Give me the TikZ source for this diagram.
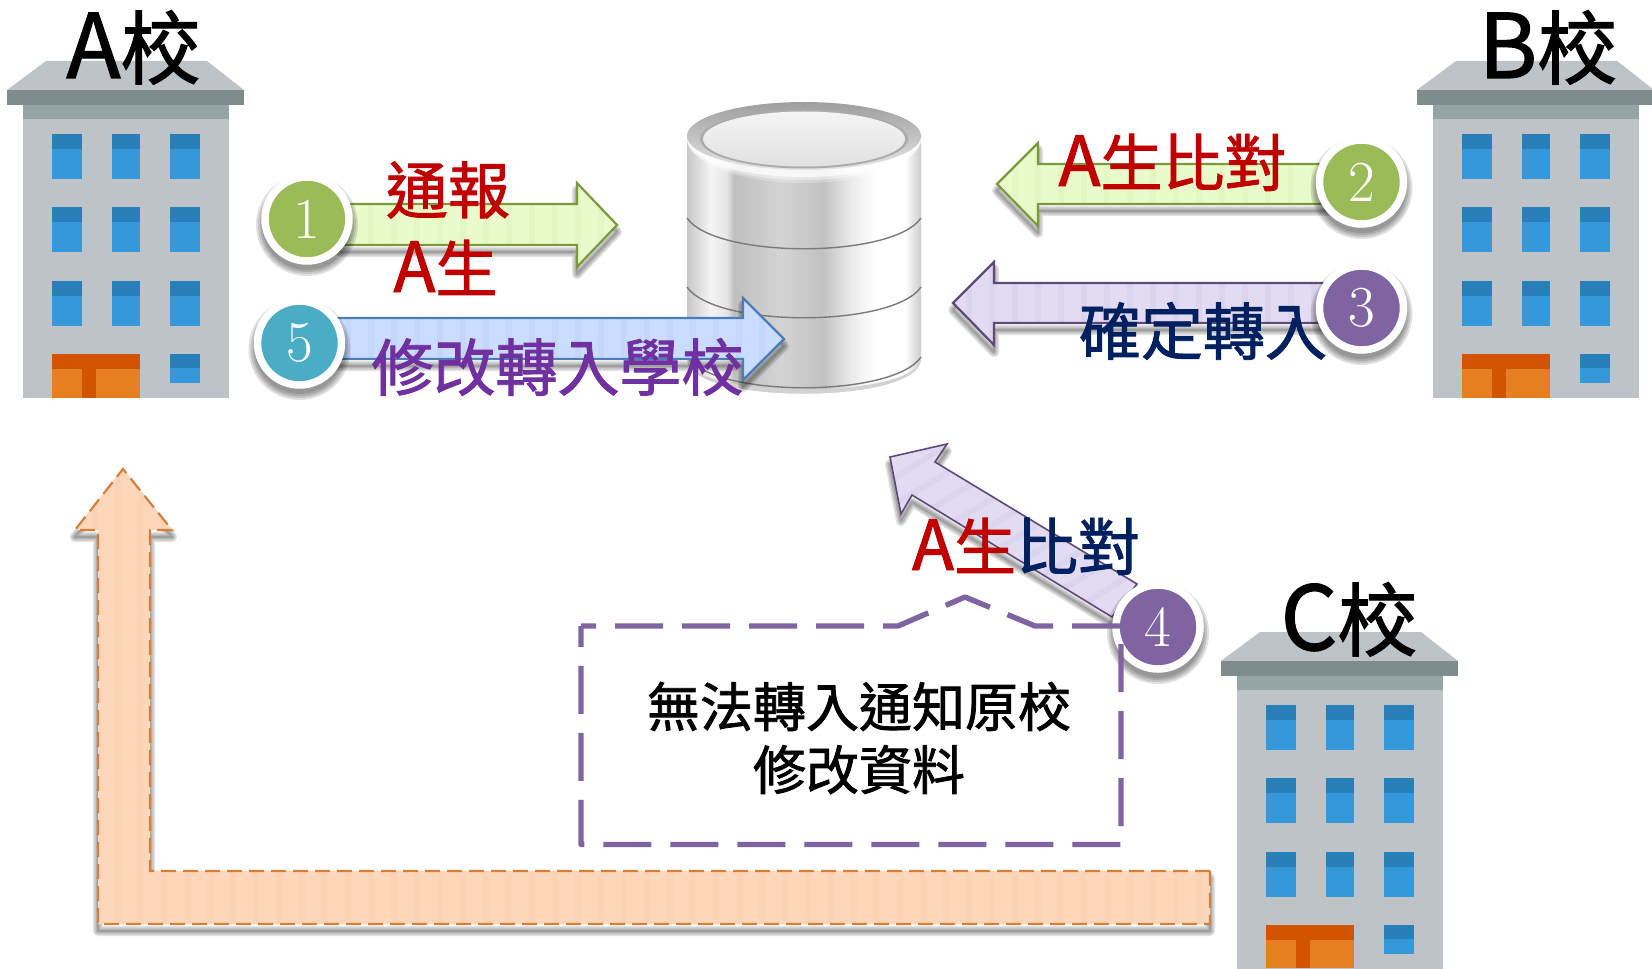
\documentclass[tikz,border=0pt]{standalone}
\usepackage{fontspec}
\newfontfamily\cjk[FakeBold=1.4]{Noto Sans CJK TC}
\usetikzlibrary{calc}
\definecolor{wblue}{HTML}{3498DB}\definecolor{wdark}{HTML}{2980B9}
\definecolor{dorange}{HTML}{E67E22}\definecolor{ddark}{HTML}{D35400}
\definecolor{bgray}{HTML}{BDC3C7}\definecolor{bband}{HTML}{95A5A6}\definecolor{bcorn}{HTML}{7F8C8D}
\definecolor{cgreen}{HTML}{9BBB59}\definecolor{cteal}{HTML}{4BACC6}\definecolor{cpurple}{HTML}{8064A2}
\definecolor{tred}{HTML}{C00000}\definecolor{tnavy}{HTML}{002060}\definecolor{tviolet}{HTML}{7030A0}
\definecolor{gfill}{HTML}{EAFBCB}\definecolor{gline}{HTML}{7A9A3D}\definecolor{gstripe}{HTML}{E4F6C4}
\definecolor{pfill}{HTML}{E2DBF2}\definecolor{pline}{HTML}{5F497A}\definecolor{pstripe}{HTML}{DCD4EC}
\definecolor{bfill}{HTML}{CBDDFF}\definecolor{bline}{HTML}{4A7EBB}\definecolor{bstripe}{HTML}{C5D7F8}
\definecolor{ofill}{HTML}{FED7BA}\definecolor{oline}{HTML}{D5803A}\definecolor{ostripe}{HTML}{FCD3B4}
\pgfdeclarehorizontalshading{dbshade}{100bp}{
 color(0bp)=(black!22);color(25bp)=(black!22);color(30bp)=(black!4);color(33.5bp)=(black!10);
 color(35bp)=(black!25);color(45bp)=(black!17);color(54bp)=(black!24);color(60bp)=(black!8);
 color(65bp)=(white);color(71.5bp)=(white);color(75bp)=(black!20);color(100bp)=(black!20)}
\newcommand{\labelA}{{\fontsize{34.5}{34}\selectfont A}}
\newcommand{\titleletter}[1]{{\fontsize{44.5}{44}\selectfont #1}}
\tikzset{
 badge/.style={circle,draw=white,line width=3.75pt,minimum size=42pt,inner sep=0pt,text=white,font=\rmfamily\fontsize{29}{29}\selectfont},
 lbl/.style={font=\cjk\fontsize{31}{34}\selectfont,inner sep=0pt},
 title/.style={font=\cjk\fontsize{40}{44}\selectfont,inner sep=0pt,text=black,anchor=base},
 note/.style={font=\cjk\fontsize{26.5}{31.5}\selectfont,inner sep=0pt,align=center,text=black},
 callout/.style={draw=cpurple,line width=2.7pt,dash pattern=on 24pt off 9.5pt,dash phase=16.5pt,line join=round},
 dbline/.style={black!52,line width=.7pt},
}
\newcommand{\building}[3]{%
 \begin{scope}[shift={(#1,#2)}]
  \fill[bgray] (23,119) rectangle (229,398);
  \fill[bgray] (46,61) -- (207,61) -- (244,90) -- (7,90) -- cycle;
  \fill[bcorn] (7,90) rectangle (244,105);
  \fill[bband] (23,105) rectangle (229,119);
  \foreach \xa/\xb in {52/82,112/140,170/200}{
   \foreach \ya in {134,207,281}{
    \fill[wblue] (\xa,\ya) rectangle (\xb,\ya+45);
    \fill[wdark] (\xa,\ya) rectangle (\xb,\ya+15);
   }}
  \fill[wblue] (170,354) rectangle (200,383);
  \fill[wdark] (170,354) rectangle (200,368);
  \fill[dorange] (52,354) rectangle (140,#3);
  \fill[ddark] (52,354) rectangle (140,369);
  \fill[ddark] (82,369) rectangle (96,#3);
 \end{scope}}
% fill colour, stroke options, stripe colour, stripe options, path
\newcommand{\blockarrow}[5]{%
 \foreach \wd in {5,3.6,2.2,0.8}{\draw[black,opacity=.11,line width=\wd pt,line join=round,shift={(0,7)}] #5;}
 \fill[#1] #5;
 \begin{scope}\clip #5;
  \begin{scope}[#4]
   \foreach \sx in {0,23,...,1660}{\fill[#3] (\sx,-300) rectangle +(6,1600);}
  \end{scope}
 \end{scope}
 \draw[#2] #5;}
\newcommand{\softdisc}[2]{%
 \foreach \rd in {51,49,47,45}{\fill[black,opacity=.12] (#1,#2+6) circle [radius=\rd];}}
\begin{document}
\begin{tikzpicture}[x=0.5pt,y=-0.5pt]
\useasboundingbox (0,0) rectangle (1652,968);
\fill[white] (0,0) rectangle (1652,968);
\building{0}{0}{398}
\building{1410}{0}{398}
\begin{scope}\clip (0,0) rectangle (1652,968);\building{1214}{571}{397}\end{scope}

% database
\fill[black!35,opacity=.5] (687,360) .. controls (690,405) and (918,405) .. (921,360) -- cycle;
\shade[shading=dbshade] (687,136) -- (687,358) .. controls (690,400) and (918,400) .. (921,358) -- (921,136) -- cycle;
\draw[dbline] (687,218) .. controls (715,259) and (893,259) .. (921,218);
\draw[dbline] (687,287) .. controls (715,328) and (893,328) .. (921,287);
\draw[dbline] (687,357) .. controls (715,398) and (893,398) .. (921,357);
\foreach \ry/\op in {44/.25,41/.4,38/.7}{\fill[white,opacity=\op] (804,139) ellipse [x radius=117,y radius=\ry];}
\shade[top color=black!38,bottom color=black!10] (804,136) ellipse [x radius=117,y radius=34];
\fill[black!33] (804,139) ellipse [x radius=104,y radius=29.5];
\shade[top color=black!4,bottom color=black!12] (804,139) ellipse [x radius=101,y radius=27.5];

% arrows
\blockarrow{gfill}{draw=gline,line width=1.1pt}{gstripe}{}{(340,204) -- (577,204) -- (577,183) -- (617,225) -- (577,267) -- (577,245) -- (340,245) -- cycle}
\blockarrow{bfill}{draw=bline,line width=1.1pt}{bstripe}{}{(330,318) -- (743,318) -- (743,298) -- (784,339) -- (743,380) -- (743,359) -- (330,359) -- cycle}
\blockarrow{gfill}{draw=gline,line width=1.1pt}{gstripe}{}{(1330,164) -- (1038,164) -- (1038,143) -- (997,184) -- (1038,226) -- (1038,204) -- (1330,204) -- cycle}
\blockarrow{pfill}{draw=pline,line width=1.1pt}{pstripe}{}{(1330,283) -- (994,283) -- (994,262) -- (953,303) -- (994,345) -- (994,323) -- (1330,323) -- cycle}
\blockarrow{pfill}{draw=pline,line width=.8pt}{pstripe}{rotate around={-58:(1000,530)}}{(1137,584) -- (935,462) -- (947,444) -- (890,457) -- (901,514) -- (912,495) -- (1112,617) -- cycle}
\blockarrow{ofill}{draw=oline,line width=1.1pt,dash pattern=on 7.5pt off 3.5pt}{ostripe}{}{(1210,871) -- (150,871) -- (150,530) -- (172,530) -- (123,469) -- (75,530) -- (98,530) -- (98,924) -- (1210,924) -- cycle}

% badges
\softdisc{307}{219}\softdisc{299.5}{343}\softdisc{1361.5}{182}\softdisc{1361.5}{308}\softdisc{1158}{627}
\node[badge,fill=cgreen] (n1) at (307,219) {1};
\node[badge,fill=cteal] (n5) at (299.5,343) {5};
\node[badge,fill=cgreen] (n2) at (1361.5,182) {2};
\node[badge,fill=cpurple] (n3) at (1361.5,308) {3};
\node[badge,fill=cpurple] (n4) at (1158,627) {4};

% callout
\draw[callout] (581,626) -- (898,626) -- (965,597) -- (1035,626) -- (1121,626) -- (1121,844.5) -- (581,844.5) -- cycle;

% labels
\node[title] (ta) at (133.5,78) {\titleletter{A}校};
\node[title] (tb) at (1548,78) {\titleletter{B}校};
\node[title] (tc) at (1349,650) {\titleletter{C}校};
\node[lbl,text=tred] (l1a) at (448,190) {通報};
\node[lbl,text=tred,anchor=base] (l1b) at (445.5,292) {\labelA 生};
\node[lbl,text=tviolet] (l5) at (557.5,367) {修改轉入學校};
\node[lbl,text=tred,anchor=base] (l2) at (1172.5,186) {\labelA 生比對};
\node[lbl,text=tnavy] (l3) at (1203,331) {確定轉入};
\node[lbl,anchor=base] (l4) at (1026,570) {\textcolor{tred}{\labelA 生}\textcolor{tnavy}{比對}};
\node[note] (nt) at (859,738) {無法轉入通知原校\\修改資料};
\end{tikzpicture}
\end{document}
